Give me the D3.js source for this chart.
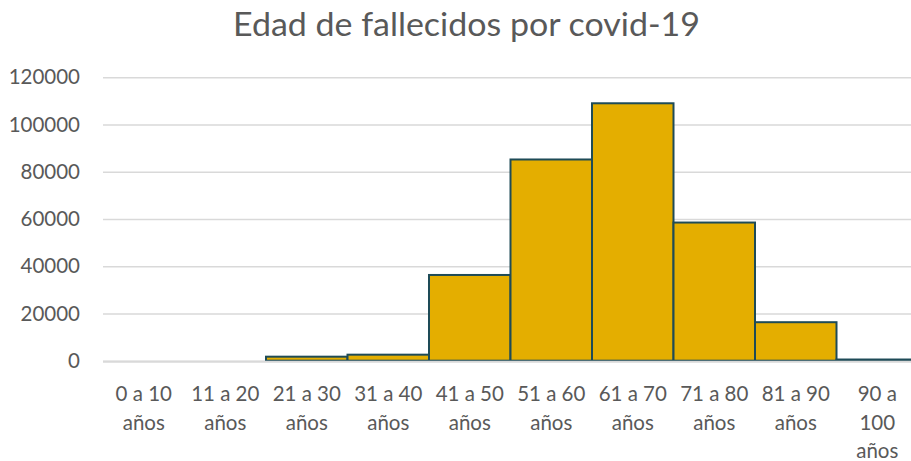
<!DOCTYPE html>
<html>
<head>
<meta charset="utf-8">
<script src="https://cdn.jsdelivr.net/npm/d3@7"></script>
<style>
  body { margin: 0; background: #fff; }
  text { font-family: Lato, "Noto Sans", sans-serif; fill: #595959; }
</style>
</head>
<body>
<div id="chart"></div>
<script>
// categories (age groups), each label split into lines
let categories = [
  '0 a 10 años', '11 a 20 años', '21 a 30 años', '31 a 40 años', '41 a 50 años',
  '51 a 60 años', '61 a 70 años', '71 a 80 años', '81 a 90 años', '90 a 100 años'
];
let category_lines = [
  ['0 a 10', 'años'], ['11 a 20', 'años'], ['21 a 30', 'años'], ['31 a 40', 'años'],
  ['41 a 50', 'años'], ['51 a 60', 'años'], ['61 a 70', 'años'], ['71 a 80', 'años'],
  ['81 a 90', 'años'], ['90 a', '100', 'años']
];
let deaths = [0, 0, 1700, 2550, 36300, 85200, 109000, 58500, 16300, 500];
let y_ticks = [0, 20000, 40000, 60000, 80000, 100000, 120000];
let title = 'Edad de fallecidos por covid-19';

let chart_width = 911;
let chart_height = 461;
let plot_left = 103;
let plot_right = 918; // plot runs a little past the picture edge
let plot_top = 77.3;
let plot_bottom = 360.7;

let svg = d3
  .select('#chart')
  .append('svg')
  .attr('width', chart_width)
  .attr('height', chart_height);

let x_scale = d3
  .scaleBand()
  .domain(categories)
  .range([plot_left, plot_right])
  .padding(0);

let y_scale = d3
  .scaleLinear()
  .domain([0, d3.max(y_ticks)])
  .range([plot_bottom, plot_top]);

// title
svg
  .append('text')
  .attr('x', 466.5)
  .attr('y', 36)
  .attr('text-anchor', 'middle')
  .style('font-size', '33px')
  .attr('textLength', 467)
  .attr('lengthAdjust', 'spacingAndGlyphs')
  .text(title);

// y axis with gridlines
let y_axis = d3
  .axisLeft(y_scale)
  .tickValues(y_ticks)
  .tickSize(-(plot_right - plot_left))
  .tickPadding(23)
  .tickFormat(d => d);

let y_g = svg
  .append('g')
  .attr('class', 'y-axis')
  .attr('transform', 'translate(' + plot_left + ',0)')
  .call(y_axis);
y_g.select('.domain').remove();
y_g.selectAll('line').attr('stroke', '#d9d9d9').attr('stroke-width', 1.5);
y_g
  .selectAll('text')
  .style('font-size', '20.5px')
  .style('font-family', 'Lato, "Noto Sans", sans-serif')
  .attr('fill', '#595959');

// bars, no gap between them
svg
  .append('g')
  .selectAll('rect')
  .data(deaths)
  .enter()
  .append('rect')
  .attr('x', (d, i) => x_scale(categories[i]))
  .attr('y', d => y_scale(d))
  .attr('width', x_scale.bandwidth())
  .attr('height', d => plot_bottom - y_scale(d))
  .attr('fill', '#e4ae00')
  .attr('stroke', '#1e4b57')
  .attr('stroke-width', 2)
  .style('display', d => (d > 0 ? null : 'none'));

// x axis line
svg
  .append('line')
  .attr('x1', plot_left)
  .attr('x2', plot_right)
  .attr('y1', plot_bottom + 1)
  .attr('y2', plot_bottom + 1)
  .attr('stroke', '#d9d9d9')
  .attr('stroke-width', 2);

// category labels, several lines each
let x_labels = svg
  .append('g')
  .selectAll('text')
  .data(category_lines)
  .enter()
  .append('text')
  .attr('text-anchor', 'middle')
  .style('font-size', '20.5px')
  .attr('transform', (d, i) => 'translate(' + (x_scale(categories[i]) + x_scale.bandwidth() / 2) + ',401)');

x_labels
  .selectAll('tspan')
  .data(d => d)
  .enter()
  .append('tspan')
  .attr('x', 0)
  .attr('y', (d, i) => i * 28.5)
  .text(d => d);
</script>
</body>
</html>
